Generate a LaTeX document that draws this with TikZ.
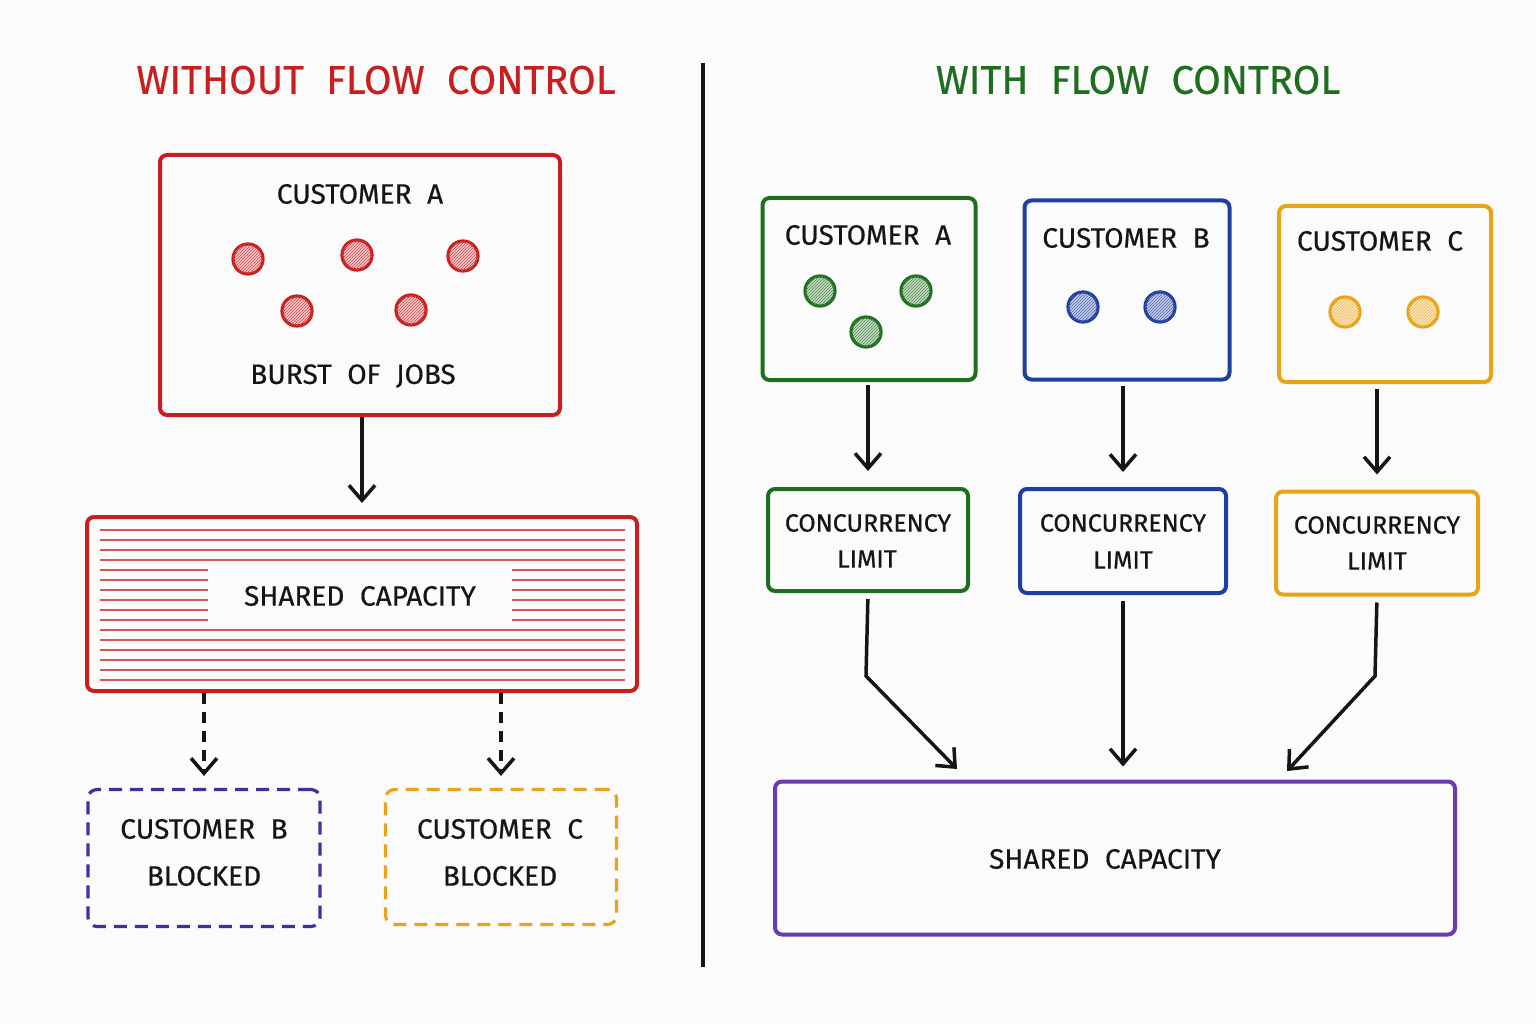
\documentclass[tikz,border=0pt]{standalone}
\usepackage{fontspec}
\setmainfont{Fira Sans}[WordSpace=2.1, FakeBold=0.5]
\usetikzlibrary{arrows.meta,patterns,calc}
\definecolor{cred}{HTML}{C81E1E}
\definecolor{cgreen}{HTML}{1E6E1E}
\definecolor{cblue}{HTML}{1F3FA0}
\definecolor{corange}{HTML}{E8A317}
\definecolor{cpurple}{HTML}{6A3AB0}
\definecolor{cdpurple}{HTML}{3F2FA0}
\definecolor{ink}{HTML}{151515}
\definecolor{paper}{HTML}{FBFBFB}
\begin{document}
\begin{tikzpicture}[x=1pt,y=-1pt,
  box/.style={draw=#1, line width=4pt, rounded corners=7pt, inner sep=0pt},
  dbox/.style={draw=#1, line width=3.2pt, rounded corners=9pt, inner sep=0pt, dash pattern=on 13pt off 8pt},
  lbl/.style={text=ink, font=\fontsize{28}{32}\selectfont, inner sep=0pt},
  clbl/.style={text=ink, font=\fontsize{25}{30}\selectfont, inner sep=0pt},
  ttl/.style={font=\fontsize{40}{46}\selectfont, inner sep=0pt},
  job/.style={circle, draw=#1, line width=3.2pt, minimum size=30pt, inner sep=0pt, fill=#1!25, postaction={pattern=north east lines, pattern color=#1!80}},
  arr/.style={draw=ink, line width=3.5pt, -{Straight Barb[length=15pt,width=26pt,line width=3.5pt]}},
  darr/.style={arr, dash pattern=on 11pt off 8pt}
]
\fill[paper] (0,0) rectangle (1536,1024);

% titles
\node[ttl, text=cred] (tl) at (376,80) {WITHOUT FLOW CONTROL};
\node[ttl, text=cgreen] (tr) at (1138,80) {WITH FLOW CONTROL};

% divider
\coordinate (dt) at (703,63);
\coordinate (db) at (703,967);
\draw[ink, line width=3.2pt] (dt) -- (db);

% ---------- left ----------
\node[box=cred, minimum width=400pt, minimum height=260pt] (custA) at (360,285) {};
\node[lbl] (custAt) at (360,194) {CUSTOMER A};
\node[lbl] (burst) at (353,376) {BURST OF JOBS};
\node[job=cred] (j1) at (248,259) {};
\node[job=cred] (j2) at (357,255) {};
\node[job=cred] (j3) at (463,256) {};
\node[job=cred] (j4) at (297,311) {};
\node[job=cred] (j5) at (411,310) {};

% shared capacity (hatched)
\foreach \yy in {530,540,...,680} {
  \draw[cred!75, line width=1.5pt] (100,\yy) -- (625,\yy);
}
\node[lbl, fill=paper, minimum width=304pt, minimum height=58pt] (sharedt) at (360,596) {SHARED CAPACITY};
\node[box=cred, minimum width=550pt, minimum height=174pt] (shared) at (362,604) {};

\draw[arr, shorten >=12pt] (custA.south -| shared.north) -- (shared.north);

\node[dbox=cdpurple, minimum width=232pt, minimum height=137pt] (blkB) at (204,858) {};
\node[lbl] (blkBt1) at (204,829) {CUSTOMER B};
\node[lbl] (blkBt2) at (204,876) {BLOCKED};
\node[dbox=corange, minimum width=231pt, minimum height=135pt] (blkC) at (501,857) {};
\node[lbl] (blkCt1) at (500,829) {CUSTOMER C};
\node[lbl] (blkCt2) at (500,876) {BLOCKED};

\draw[darr, shorten >=12pt] (shared.south -| blkB.north) -- (blkB.north);
\draw[darr, shorten >=12pt] (shared.south -| blkC.north) -- (blkC.north);

% ---------- right ----------
\node[box=cgreen, minimum width=213pt, minimum height=182pt] (gA) at (869,289) {};
\node[lbl] (gAt) at (868,235) {CUSTOMER A};
\node[job=cgreen] (g1) at (820,291) {};
\node[job=cgreen] (g2) at (916,291) {};
\node[job=cgreen] (g3) at (866,332) {};

\node[box=cblue, minimum width=205pt, minimum height=179pt] (bB) at (1127,290) {};
\node[lbl] (bBt) at (1126,238) {CUSTOMER B};
\node[job=cblue] (b1) at (1083,307) {};
\node[job=cblue] (b2) at (1160,307) {};

\node[box=corange, minimum width=212pt, minimum height=176pt] (oC) at (1385,294) {};
\node[lbl] (oCt) at (1380,241) {CUSTOMER C};
\node[job=corange] (o1) at (1345,312) {};
\node[job=corange] (o2) at (1423,312) {};

\node[box=cgreen, minimum width=200pt, minimum height=102pt] (gL) at (868,540) {};
\node[clbl] (gLt1) at (868,523) {CONCURRENCY};
\node[clbl] (gLt2) at (867,559) {LIMIT};
\node[box=cblue, minimum width=206pt, minimum height=104pt] (bL) at (1123,541) {};
\node[clbl] (bLt1) at (1123,523) {CONCURRENCY};
\node[clbl] (bLt2) at (1123,560) {LIMIT};
\node[box=corange, minimum width=202pt, minimum height=103pt] (oL) at (1377,543) {};
\node[clbl] (oLt1) at (1377,525) {CONCURRENCY};
\node[clbl] (oLt2) at (1377,561) {LIMIT};

\draw[arr, shorten <=3pt, shorten >=16pt] (gA.south -| gL.north) -- (gL.north);
\draw[arr, shorten <=4pt, shorten >=15pt] (bB.south -| bL.north) -- (bL.north);
\draw[arr, shorten <=5pt, shorten >=15pt] (oC.south -| oL.north) -- (oL.north);

\node[box=cpurple, minimum width=680pt, minimum height=153pt] (sR) at (1115,858) {};
\node[lbl] (sRt) at (1105,859) {SHARED CAPACITY};

\coordinate (kA) at (866,676);
\coordinate (eA) at (957,769);
\coordinate (kC) at (1375,676);
\coordinate (eC) at (1287,771);
\draw[arr, shorten <=6pt] (gL.south) -- (kA) -- (eA);
\draw[arr, shorten <=6pt, shorten >=13pt] (bL.south) -- (bL.south |- sR.north);
\draw[arr, shorten <=6pt] (oL.south) -- (kC) -- (eC);
\end{tikzpicture}
\end{document}
